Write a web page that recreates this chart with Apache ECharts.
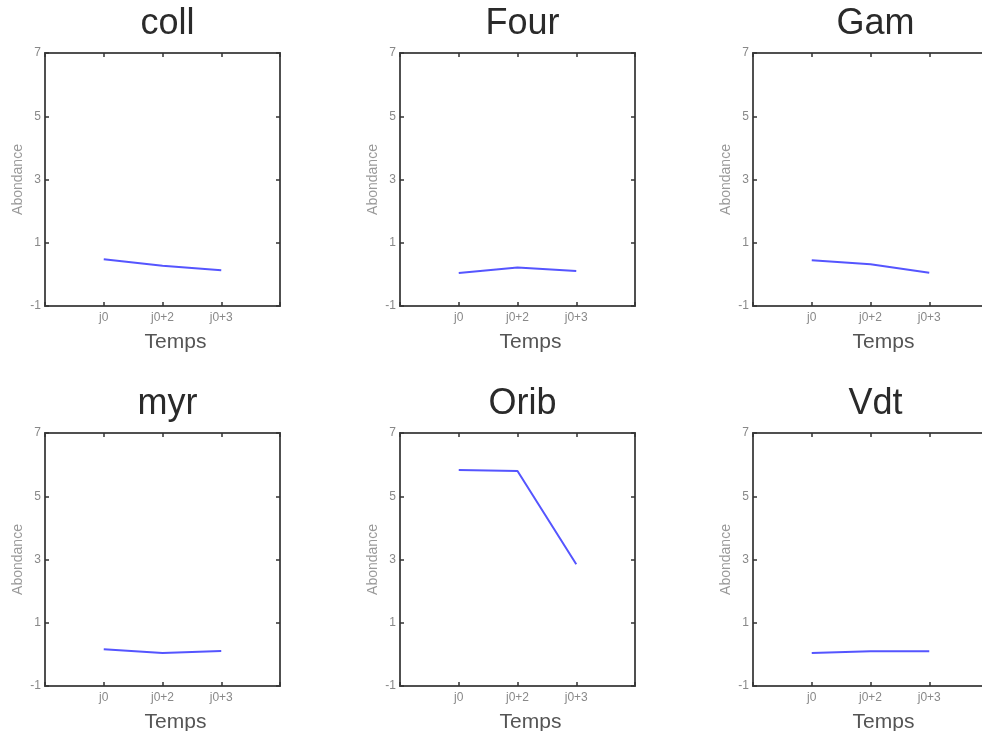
<!DOCTYPE html>
<html>
<head>
<meta charset="utf-8">
<script src="https://cdn.jsdelivr.net/npm/echarts@6/dist/echarts.min.js"></script>
<style>
html,body{margin:0;padding:0;background:#fff;}
#chart{width:982px;height:731px;}
</style>
</head>
<body>
<div id="chart"></div>
<script>
var categories = ['j0', 'j0+2', 'j0+3'];
var panelTitles = ['coll', 'Four', 'Gam', 'myr', 'Orib', 'Vdt'];
var coll = [0.48, 0.27, 0.13];
var four = [0.04, 0.22, 0.11];
var gam  = [0.45, 0.32, 0.05];
var myr  = [0.16, 0.04, 0.11];
var orib = [5.83, 5.80, 2.85];
var vdt  = [0.04, 0.10, 0.10];
var yTicks = [-1, 1, 3, 5, 7];
var xName = 'Temps';
var yName = 'Abondance';

var seriesData = [coll, four, gam, myr, orib, vdt];

var chart = echarts.init(document.getElementById('chart'));
var lefts = [45, 400, 753];
var tops = [53, 433];
var W = 235, H = 253;
var FONT = '"Liberation Sans", Arial, sans-serif';

var grids = [], xAxes = [], yAxes = [], series = [], titles = [];
for (var i = 0; i < 6; i++) {
  var col = i % 3, row = Math.floor(i / 3);
  grids.push({left: lefts[col], top: tops[row], width: W, height: H,
    outerBoundsMode: 'none', containLabel: false,
    show: true, borderColor: '#505050', borderWidth: 2, backgroundColor: '#fff'});
  titles.push({text: panelTitles[i], left: lefts[col] + W / 2, top: tops[row] - 52,
    textAlign: 'center',
    textStyle: {fontFamily: FONT, fontSize: 36, fontWeight: 'normal', color: '#2a2a2a'}});
  var tickStyle = {show: true, inside: true, length: 4, lineStyle: {color: '#333', width: 1.5}};
  var noLine = {show: false, onZero: false};
  // bottom x axis
  xAxes.push({type: 'value', gridIndex: i, min: 0, max: 4, interval: 1, position: 'bottom',
    axisLine: noLine, axisTick: tickStyle, splitLine: {show: false},
    axisLabel: {fontFamily: FONT, fontSize: 12, color: '#888', margin: 6,
      formatter: function (v) { return categories[v - 1] || ''; }},
    name: xName, nameLocation: 'middle', nameGap: 26,
    nameTextStyle: {fontFamily: FONT, fontSize: 21, color: '#555', padding: [0, 0, 0, 26]}});
  // top mirror x axis
  xAxes.push({type: 'value', gridIndex: i, min: 0, max: 4, interval: 1, position: 'top',
    axisLine: noLine, axisTick: tickStyle, splitLine: {show: false},
    axisLabel: {show: false}});
  // left y axis
  yAxes.push({type: 'value', gridIndex: i, min: -1, max: 7, interval: 2, position: 'left',
    axisLine: noLine, axisTick: tickStyle, splitLine: {show: false},
    axisLabel: {fontFamily: FONT, fontSize: 12, color: '#888', margin: 4},
    name: yName, nameLocation: 'middle', nameGap: 20, nameRotate: 90,
    nameTextStyle: {fontFamily: FONT, fontSize: 14, color: '#999'}});
  // right mirror y axis
  yAxes.push({type: 'value', gridIndex: i, min: -1, max: 7, interval: 2, position: 'right',
    axisLine: noLine, axisTick: tickStyle, splitLine: {show: false},
    axisLabel: {show: false}});
  series.push({type: 'line', xAxisIndex: 2 * i, yAxisIndex: 2 * i,
    data: seriesData[i].map(function (v, k) { return [k + 1, v]; }),
    showSymbol: false, lineStyle: {color: '#5555ff', width: 2}, silent: true});
}

chart.setOption({
  animation: false,
  title: titles,
  grid: grids,
  xAxis: xAxes,
  yAxis: yAxes,
  series: series
});
</script>
</body>
</html>
